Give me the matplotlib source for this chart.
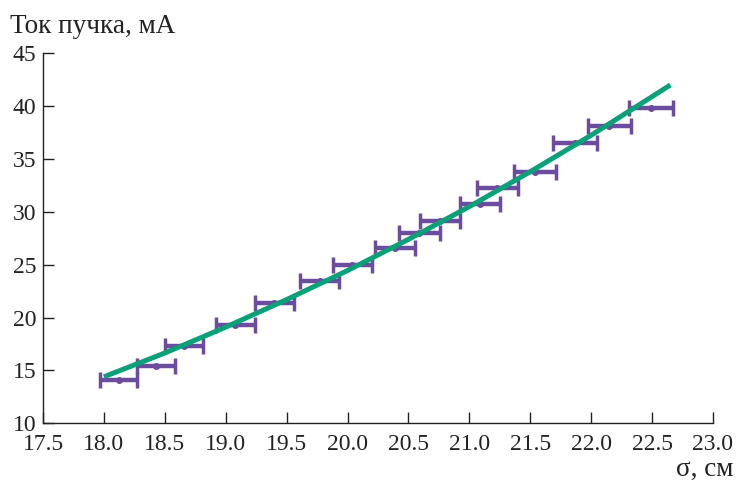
import numpy as np
import matplotlib
matplotlib.use("Agg")
import matplotlib.pyplot as plt

# measured beam current vs sigma
sigma = [18.12, 18.43, 18.66, 19.08, 19.40, 19.77, 20.04, 20.39,
         20.59, 20.76, 21.09, 21.23, 21.54, 21.87, 22.15, 22.49]
current = [14.05, 15.45, 17.35, 19.3, 21.4, 23.45, 25.0, 26.6,
           28.0, 29.15, 30.7, 32.3, 33.8, 36.5, 38.1, 39.85]
sigma_err = [0.155, 0.155, 0.155, 0.16, 0.16, 0.16, 0.16, 0.165,
             0.165, 0.165, 0.165, 0.17, 0.17, 0.18, 0.18, 0.18]

# fitted curve
fit_sigma = [18.0, 18.5, 19.0, 19.5, 20.0, 20.5, 21.0, 21.5, 22.0, 22.65]
fit_current = [14.4, 16.65, 19.1, 21.7, 24.45, 27.4, 30.5, 33.8, 37.25, 42.0]

xticks = [17.5, 18.0, 18.5, 19.0, 19.5, 20.0, 20.5, 21.0, 21.5, 22.0, 22.5, 23.0]
yticks = [10, 15, 20, 25, 30, 35, 40, 45]

PURPLE = "#6b4c9f"
GREEN = "#0aa078"
INK = "#222222"

plt.rcParams["font.family"] = ["Liberation Serif", "DejaVu Serif"]

fig = plt.figure(figsize=(7.39, 4.84), dpi=100)
ax = fig.add_axes([0.0582, 0.1254, 0.9066, 0.7645])

ax.errorbar(sigma, current, xerr=sigma_err, fmt="o", color=PURPLE,
            ms=4, elinewidth=3.2, capsize=6, capthick=2.5, zorder=2)
ax.plot(fit_sigma, fit_current, color=GREEN, lw=3.6, zorder=3,
        solid_capstyle="butt")

ax.set_xlim(17.5, 23.0)
ax.set_ylim(10, 45)
ax.set_xticks(xticks)
ax.set_xticklabels([f"{t:.1f}" for t in xticks])
ax.set_yticks(yticks)
ax.tick_params(direction="in", length=8, width=1, labelsize=17,
               colors=INK)
ax.tick_params(axis="x", pad=8)
ax.tick_params(axis="y", pad=5)
for s in ("top", "right"):
    ax.spines[s].set_visible(False)
for s in ("left", "bottom"):
    ax.spines[s].set_linewidth(1)
    ax.spines[s].set_color(INK)

fig.text(0.0135, 0.931, "Ток пучка, мА", fontsize=19.5, color=INK,
         ha="left", va="baseline")
fig.text(0.993, 0.016, "σ, см", fontsize=19.5, color=INK,
         ha="right", va="baseline")

fig.savefig("out.png", dpi=100)
